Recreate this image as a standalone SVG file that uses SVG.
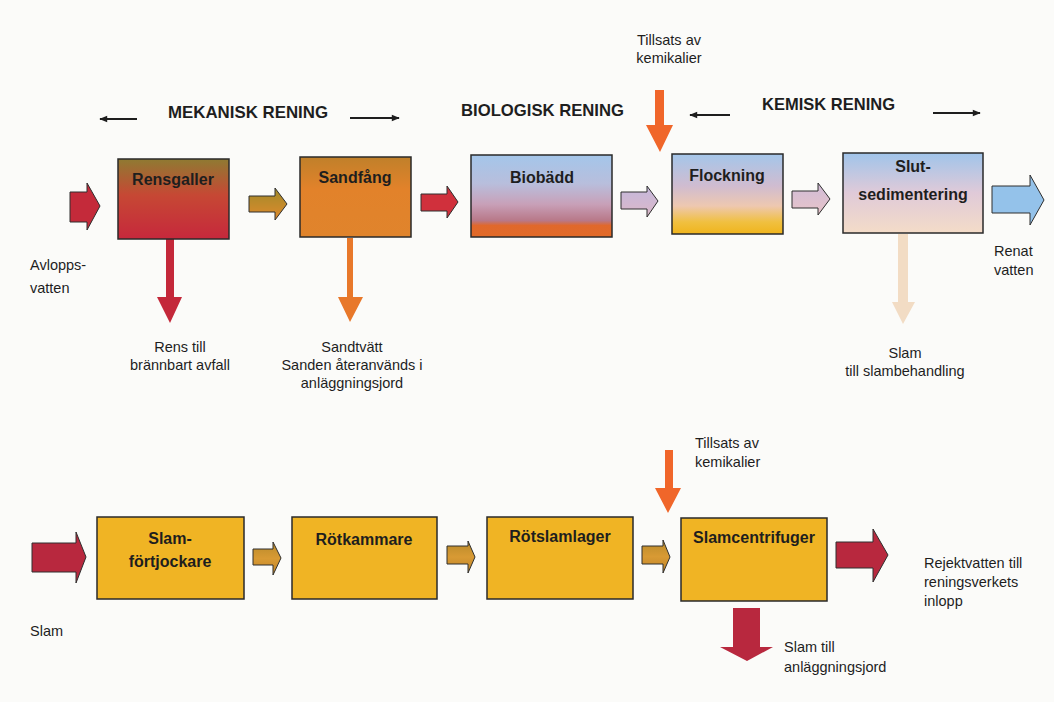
<svg xmlns="http://www.w3.org/2000/svg" width="1054" height="702" viewBox="0 0 1054 702">
<style>
text{font-family:"Liberation Sans",Arial,sans-serif;fill:#1e1e1e}
.lbl{font-size:16px;font-weight:bold;text-anchor:middle}
.ann{font-size:14.5px}
.mid{text-anchor:middle}
.hd{font-size:17px;font-weight:bold}
.box{stroke:#2a2a2a;stroke-width:1.5}
.arr{stroke:#2e2e2e;stroke-width:1}
.thin{stroke:#1e1e1e;stroke-width:2;fill:none}
</style>
<defs>
<linearGradient id="gRens" x1="0" y1="0" x2="0" y2="1">
<stop offset="0" stop-color="#8f7a32"/><stop offset="0.45" stop-color="#c64834"/><stop offset="1" stop-color="#c6283c"/>
</linearGradient>
<linearGradient id="gSand" x1="0" y1="0" x2="0" y2="1">
<stop offset="0" stop-color="#c0802a"/><stop offset="0.4" stop-color="#e2822a"/><stop offset="1" stop-color="#e0842c"/>
</linearGradient>
<linearGradient id="gBio" x1="0" y1="0" x2="0" y2="1">
<stop offset="0" stop-color="#a4c6ea"/><stop offset="0.35" stop-color="#b8bedc"/><stop offset="0.6" stop-color="#c8a0b8"/><stop offset="0.8" stop-color="#b87888"/><stop offset="0.86" stop-color="#e0682c"/><stop offset="1" stop-color="#e26a28"/>
</linearGradient>
<linearGradient id="gFlock" x1="0" y1="0" x2="0" y2="1">
<stop offset="0" stop-color="#a4c6ea"/><stop offset="0.4" stop-color="#d0bcd0"/><stop offset="0.65" stop-color="#eec8b0"/><stop offset="0.85" stop-color="#f0c040"/><stop offset="1" stop-color="#f0b41c"/>
</linearGradient>
<linearGradient id="gSlut" x1="0" y1="0" x2="0" y2="1">
<stop offset="0" stop-color="#a0c4ea"/><stop offset="0.5" stop-color="#e0cad8"/><stop offset="1" stop-color="#f4dcc8"/>
</linearGradient>
<linearGradient id="gOlive" x1="0" y1="0" x2="0" y2="1">
<stop offset="0" stop-color="#a08a2a"/><stop offset="1" stop-color="#e08a2c"/>
</linearGradient>
<linearGradient id="gLav" x1="0" y1="0" x2="0" y2="1">
<stop offset="0" stop-color="#c4b8dc"/><stop offset="1" stop-color="#dcb8c8"/>
</linearGradient>
<linearGradient id="gLav2" x1="0" y1="0" x2="0" y2="1">
<stop offset="0" stop-color="#d0bcd8"/><stop offset="1" stop-color="#e8c4c8"/>
</linearGradient>
<linearGradient id="gBrown" x1="0" y1="0" x2="0" y2="1">
<stop offset="0" stop-color="#b88a2a"/><stop offset="0.5" stop-color="#d89a34"/><stop offset="1" stop-color="#c08428"/>
</linearGradient>
<marker id="mh" viewBox="0 0 10 10" refX="9" refY="5" markerWidth="9" markerHeight="8" orient="auto" markerUnits="userSpaceOnUse">
<path d="M0,1 L10,5 L0,9 Z" fill="#1e1e1e"/>
</marker>
</defs>
<rect width="1054" height="702" fill="#fbfbf9"/>

<g id="headings">
<text class="hd" x="168" y="118" textLength="160" lengthAdjust="spacingAndGlyphs">MEKANISK RENING</text>
<text class="hd" x="461" y="116" textLength="163" lengthAdjust="spacingAndGlyphs">BIOLOGISK RENING</text>
<text class="hd" x="762" y="110" textLength="133" lengthAdjust="spacingAndGlyphs">KEMISK RENING</text>
</g>

<g id="connectors">
<line class="thin" x1="137" y1="119" x2="100" y2="119" marker-end="url(#mh)"/>
<line class="thin" x1="350" y1="118" x2="399" y2="118" marker-end="url(#mh)"/>
<line class="thin" x1="730" y1="115" x2="690" y2="115" marker-end="url(#mh)"/>
<line class="thin" x1="933" y1="113" x2="980" y2="113" marker-end="url(#mh)"/>
<polygon class="arr" fill="#c42a3a" points="70,192 87,192 87,183 100,206 87,230 87,222 70,222"/>
<polygon class="arr" fill="url(#gOlive)" points="249,196 275,196 275,188 287,204 275,220 275,212 249,212"/>
<polygon class="arr" fill="#d0303c" points="421,194 447,194 447,186 458,202 447,218 447,211 421,211"/>
<polygon class="arr" fill="url(#gLav)" points="621,192 647,192 647,186 658,201 647,217 647,209 621,209"/>
<polygon class="arr" fill="url(#gLav2)" points="792,191 818,191 818,183 830,199 818,215 818,208 792,208"/>
<polygon class="arr" fill="#94c2ea" points="992,186 1030,186 1030,175 1044,200 1030,225 1030,213 992,213"/>
<polygon fill="#c4283a" points="166,239 174,239 174,297 182,297 170,323 157,297 166,297"/>
<polygon fill="#e8782a" points="347,238 353,238 353,297 363,297 350,322 338,297 347,297"/>
<polygon fill="#f2dcc4" points="898,234 908,234 908,302 915,302 903,324 892,302 898,302"/>
<polygon fill="#f0662a" points="655,90 664,90 664,125 673,125 660,152 646,125 655,125"/>
<polygon class="arr" fill="#b8283e" points="32,543 76,543 76,532 86,557 76,583 76,572 32,572"/>
<polygon class="arr" fill="url(#gBrown)" points="253,549 273,549 273,542 281,558 273,575 273,565 253,565"/>
<polygon class="arr" fill="url(#gBrown)" points="447,546 468,546 468,541 475,557 468,573 468,564 447,564"/>
<polygon class="arr" fill="url(#gBrown)" points="642,546 663,546 663,540 670,557 663,573 663,564 642,564"/>
<polygon class="arr" fill="#b8283e" points="836,542 873,542 873,529 888,555 873,582 873,568 836,568"/>
<polygon fill="#b8283e" points="733,608 760,608 760,647 773,647 747,661 720,647 733,647"/>
<polygon fill="#f0662a" points="665,450 673,450 673,488 681,488 668,513 655,488 665,488"/>
</g>

<g id="n-rensgaller">
<rect class="box" x="118" y="159" width="111" height="80" fill="url(#gRens)"/>
<text class="lbl" x="173" y="185">Rensgaller</text>
</g>
<g id="n-sandfang">
<rect class="box" x="300" y="157" width="111" height="80" fill="url(#gSand)"/>
<text class="lbl" x="355" y="183">Sandfång</text>
</g>
<g id="n-biobadd">
<rect class="box" x="471" y="155" width="141" height="82" fill="url(#gBio)"/>
<text class="lbl" x="542" y="183">Biobädd</text>
</g>
<g id="n-flockning">
<rect class="box" x="672" y="154" width="111" height="80" fill="url(#gFlock)"/>
<text class="lbl" x="727" y="181">Flockning</text>
</g>
<g id="n-slutsedimentering">
<rect class="box" x="843" y="153" width="140" height="80" fill="url(#gSlut)"/>
<text class="lbl" x="913" y="172">Slut-</text>
<text class="lbl" x="913" y="200">sedimentering</text>
</g>

<g id="n-slamfortjockare">
<rect class="box" x="97" y="517" width="147" height="82" fill="#f0b424"/>
<text class="lbl" x="170" y="544">Slam-</text>
<text class="lbl" x="170" y="567">förtjockare</text>
</g>
<g id="n-rotkammare">
<rect class="box" x="292" y="517" width="145" height="82" fill="#f0b424"/>
<text class="lbl" x="364" y="545">Rötkammare</text>
</g>
<g id="n-rotslamlager">
<rect class="box" x="487" y="517" width="146" height="82" fill="#f0b424"/>
<text class="lbl" x="560" y="542">Rötslamlager</text>
</g>
<g id="n-slamcentrifuger">
<rect class="box" x="681" y="518" width="146" height="83" fill="#f0b424"/>
<text class="lbl" x="754" y="543">Slamcentrifuger</text>
</g>

<g id="labels">
<text class="ann mid" x="669" y="45">Tillsats av</text>
<text class="ann mid" x="669" y="63">kemikalier</text>
<text class="ann" x="30" y="270">Avlopps-</text>
<text class="ann" x="30" y="293">vatten</text>
<text class="ann mid" x="180" y="352">Rens till</text>
<text class="ann mid" x="180" y="370">brännbart avfall</text>
<text class="ann mid" x="352" y="352">Sandtvätt</text>
<text class="ann mid" x="352" y="370">Sanden återanvänds i</text>
<text class="ann mid" x="352" y="388">anläggningsjord</text>
<text class="ann mid" x="905" y="358">Slam</text>
<text class="ann mid" x="905" y="376">till slambehandling</text>
<text class="ann" x="994" y="256">Renat</text>
<text class="ann" x="994" y="275">vatten</text>
<text class="ann" x="695" y="448">Tillsats av</text>
<text class="ann" x="695" y="467">kemikalier</text>
<text class="ann" x="924" y="568">Rejektvatten till</text>
<text class="ann" x="924" y="587">reningsverkets</text>
<text class="ann" x="924" y="606">inlopp</text>
<text class="ann" x="30" y="636">Slam</text>
<text class="ann" x="784" y="652">Slam till</text>
<text class="ann" x="784" y="672">anläggningsjord</text>
</g>
</svg>
